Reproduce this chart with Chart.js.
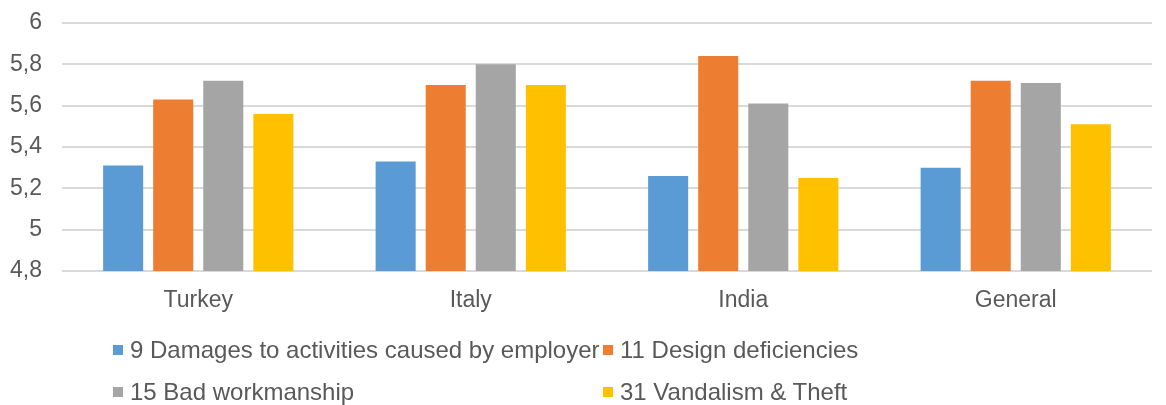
<!DOCTYPE html>
<html>
<head>
<meta charset="utf-8">
<script src="https://cdn.jsdelivr.net/npm/chart.js@4/dist/chart.umd.min.js"></script>
<style>
    body { margin: 0; background: #fff; }
    #wrap { position: relative; width: 1166px; height: 405px; font-family: "Liberation Sans", Arial, sans-serif; }
    #chartBox { position: absolute; left: 0; top: 0; width: 1166px; height: 325px; }
    #legend { position: absolute; left: 0; top: 0; width: 1166px; height: 405px; pointer-events: none; }
    .item { position: absolute; display: flex; align-items: center; color: #595959; font-size: 24px; white-space: nowrap; }
    .box { width: 10px; height: 10px; margin-right: 7px; }
</style>
</head>
<body>
<div id="wrap">
    <div id="chartBox"><canvas id="barChart"></canvas></div>
    <div id="legend"></div>
</div>
<script>
// Data
const countries = ['Turkey', 'Italy', 'India', 'General'];
const seriesNames = [
    '9 Damages to activities caused by employer',
    '11 Design deficiencies',
    '15 Bad workmanship',
    '31 Vandalism & Theft'
];
const damagesByEmployer = [5.31, 5.33, 5.26, 5.30];
const designDeficiencies = [5.63, 5.70, 5.84, 5.72];
const badWorkmanship = [5.72, 5.80, 5.61, 5.71];
const vandalismTheft = [5.56, 5.70, 5.25, 5.51];
const yTicks = [4.8, 5, 5.2, 5.4, 5.6, 5.8, 6];

const seriesColors = ['#5B9BD5', '#ED7D31', '#A5A5A5', '#FFC000'];
const textColor = '#595959';
const fontFamily = '"Liberation Sans", Arial, sans-serif';

function makeDataset(i, values) {
    return {
        label: seriesNames[i],
        data: values,
        backgroundColor: seriesColors[i],
        borderWidth: 0,
        categoryPercentage: 0.735,
        barPercentage: 0.8
    };
}

const ctx = document.getElementById('barChart').getContext('2d');
const chart = new Chart(ctx, {
    type: 'bar',
    data: {
        labels: countries,
        datasets: [
            makeDataset(0, damagesByEmployer),
            makeDataset(1, designDeficiencies),
            makeDataset(2, badWorkmanship),
            makeDataset(3, vandalismTheft)
        ]
    },
    options: {
        responsive: true,
        maintainAspectRatio: false,
        animation: false,
        layout: {
            padding: { top: 23, left: 10, right: 14, bottom: 0 }
        },
        scales: {
            x: {
                grid: { display: false },
                border: { display: false },
                ticks: {
                    color: textColor,
                    padding: 8,
                    maxRotation: 0,
                    font: { family: fontFamily, size: 23 }
                },
                afterFit: function (scale) {
                    scale.height = 54;
                }
            },
            y: {
                min: yTicks[0],
                max: yTicks[yTicks.length - 1],
                afterBuildTicks: function (scale) {
                    scale.ticks = yTicks.map(function (v) { return { value: v }; });
                },
                afterFit: function (scale) {
                    scale.width = 52;
                    scale.paddingTop = 0;
                    scale.paddingBottom = 0;
                },
                grid: {
                    color: '#d9d9d9',
                    lineWidth: 2,
                    drawTicks: false
                },
                border: { display: false },
                ticks: {
                    color: textColor,
                    padding: 20,
                    font: { family: fontFamily, size: 23 },
                    callback: function (value) {
                        return String(Number(value.toFixed(1))).replace('.', ',');
                    }
                }
            }
        },
        plugins: {
            legend: { display: false },
            tooltip: { enabled: false }
        }
    }
});

// Legend laid out in two columns like the original
const legendSpots = [
    { left: 113, top: 350 },
    { left: 603, top: 350 },
    { left: 113, top: 392 },
    { left: 603, top: 392 }
];
const legendEl = document.getElementById('legend');
seriesNames.forEach(function (name, i) {
    const item = document.createElement('div');
    item.className = 'item';
    item.style.left = legendSpots[i].left + 'px';
    item.style.top = (legendSpots[i].top - 15) + 'px';
    item.style.height = '30px';
    const box = document.createElement('span');
    box.className = 'box';
    box.style.background = seriesColors[i];
    const text = document.createElement('span');
    text.textContent = name;
    item.appendChild(box);
    item.appendChild(text);
    legendEl.appendChild(item);
});
</script>
</body>
</html>
